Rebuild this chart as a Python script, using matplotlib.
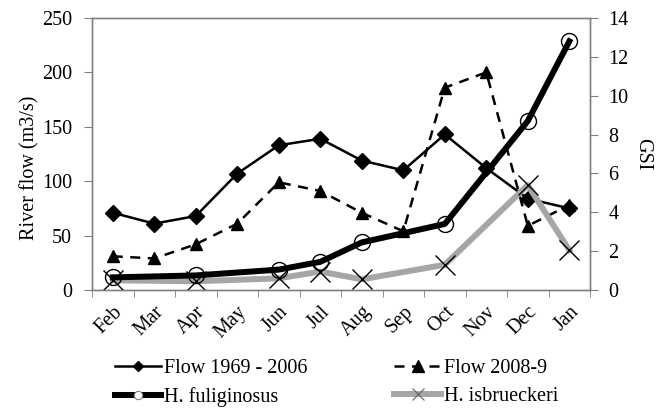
import numpy as np
import matplotlib
matplotlib.use("Agg")
import matplotlib.pyplot as plt
from matplotlib.lines import Line2D

# --- data ---
months = ["Feb", "Mar", "Apr", "May", "Jun", "Jul", "Aug", "Sep", "Oct", "Nov", "Dec", "Jan"]
flow_1969_2006 = [71, 61, 68, 107, 133, 139, 119, 110, 143, 112, 84, 75]
flow_2008_9 = [31, 29, 42, 61, 99, 91, 71, 54, 186, 200, 59, 78]
# GSI (NaN = no sample that month)
gsi_fuliginosus = [0.65, np.nan, 0.75, np.nan, 1.05, 1.45, 2.45, np.nan, 3.4, np.nan, 8.7, 12.8]
gsi_isbrueckeri = [0.5, np.nan, 0.45, np.nan, 0.6, 0.95, 0.55, np.nan, 1.3, np.nan, 5.4, 2.05]

plt.rcParams["font.family"] = ["Liberation Serif", "DejaVu Serif"]
plt.rcParams["font.size"] = 14.5

x = np.arange(len(months))

fig = plt.figure(figsize=(6.63, 4.08), dpi=100)
ax = fig.add_axes([0.1388, 0.2892, 0.890 - 0.1388, 0.9559 - 0.2892])
ax2 = ax.twinx()

DASH = (0, (4, 3))
ax.plot(x, flow_1969_2006, color="black", lw=1.8, marker="D", ms=8)
ax.plot(x, flow_2008_9, color="black", lw=1.8, ls=DASH, marker="^", ms=9)

def valid(vals):
    v = np.array(vals, dtype=float)
    m = ~np.isnan(v)
    return x[m], v[m]

fx, fy = valid(gsi_fuliginosus)
ix, iy = valid(gsi_isbrueckeri)
ax2.plot(ix, iy, color="#a6a6a6", lw=4.3, marker="x", ms=14, mec="black", mew=1)
ax2.plot(fx, fy, color="black", lw=4.3, marker="o", ms=11.5, mfc="none", mec="black", mew=1)

ax.set_xlim(-0.5, len(months) - 0.5)
ax.set_ylim(0, 250)
ax.set_yticks(range(0, 251, 50))
ax2.set_ylim(0, 14)
ax2.set_yticks(range(0, 15, 2))

ax.set_xticks(x)
ax.set_xticklabels(months, rotation=45, ha="right", rotation_mode="anchor")
ax.set_xticks(np.arange(-0.5, len(months)), minor=True)
ax.tick_params(axis="x", which="major", length=0, pad=9)
ax.tick_params(axis="x", which="minor", length=5, color="#808080", direction="out")
ax.tick_params(axis="y", length=5.5, color="#808080", direction="out", pad=9)
ax2.tick_params(axis="y", length=5.5, color="#808080", direction="out", pad=7.5)

for a in (ax, ax2):
    for s in a.spines.values():
        s.set_color("#808080")
        s.set_linewidth(1)

ax.set_ylabel("River flow (m3/s)")
ax.yaxis.set_label_coords(-0.105, 0.449)
ax2.set_ylabel("GSI", rotation=270, labelpad=17)

# legend proxies (Excel-style small markers)
handles = [
    Line2D([], [], color="black", lw=1.8, marker="D", ms=5),
    Line2D([], [], color="black", lw=4.3, marker="o", ms=6, mfc="white", mec="#808080", mew=0.8),
    Line2D([], [], color="black", lw=1.8, ls=DASH, marker="^", ms=8),
    Line2D([], [], color="#a6a6a6", lw=4.3, marker="x", ms=9, mec="#606060", mew=0.8),
]
labels = ["Flow 1969 - 2006", "H. fuliginosus", "Flow 2008-9", "H. isbrueckeri"]
fig.legend(handles, labels, ncol=2, frameon=False, loc="center left",
           bbox_to_anchor=(115 / 663, 1 - 383 / 408), borderpad=0, borderaxespad=0,
           handlelength=2.3, handletextpad=0.15, columnspacing=4.3, labelspacing=0.45)

fig.savefig("out.png", dpi=100)
